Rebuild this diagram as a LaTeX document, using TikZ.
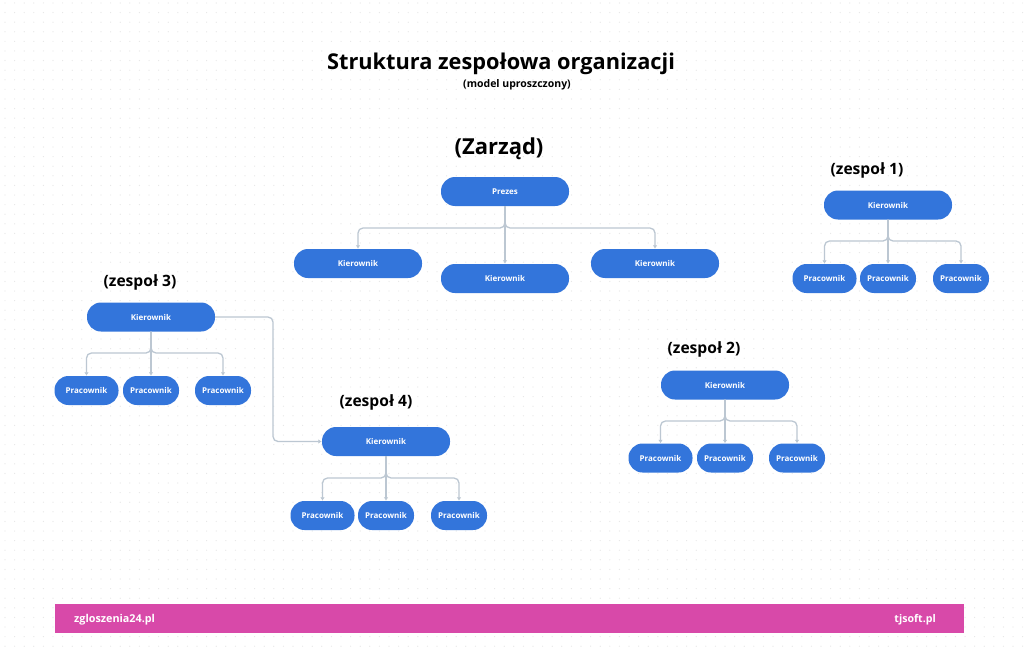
\documentclass[tikz,border=0pt]{standalone}
\usepackage{fontspec}
\setmainfont{Open Sans}
\usetikzlibrary{arrows.meta}
\definecolor{boxblue}{HTML}{3375DB}
\definecolor{linegray}{HTML}{BCC7D2}
\definecolor{barpink}{HTML}{D849A9}
\definecolor{dotgray}{HTML}{E6E6E6}
\tikzset{
  x=1pt,y=-1pt,
  pill/.style={fill=boxblue,text=white,rounded corners=14pt,font=\fontsize{8}{9}\selectfont\bfseries,inner sep=0pt,minimum height=29pt,align=center},
  boss/.style={pill,minimum width=128pt},
  wideworker/.style={pill,minimum width=64pt},
  worker/.style={pill,minimum width=56pt},
  conn/.style={draw=linegray,line width=1.3pt,rounded corners=5pt,-{Latex[length=3.5pt,width=4.5pt]}},
  heading/.style={text=black,font=\fontsize{15.6}{18}\selectfont\bfseries,inner sep=0pt},
  dotrow/.style={draw=dotgray,line width=1.2pt,line cap=round,dash pattern=on 0pt off 9.6pt},
}
\begin{document}
\begin{tikzpicture}
\useasboundingbox (0,0) rectangle (1024,650);
\fill[white] (0,0) rectangle (1024,650);
\foreach \j in {0,...,67}{
  \draw[dotrow] (5,{3+9.6*\j}) -- (1024,{3+9.6*\j});}
\node[text=black,font=\fontsize{21.75}{26}\selectfont\bfseries,inner sep=0pt] (title) at (501,64) {Struktura zespołowa organizacji};
\node[text=black,font=\fontsize{10.5}{12}\selectfont\bfseries,inner sep=0pt] (sub) at (517,85) {(model uproszczony)};
\node[text=black,font=\fontsize{22}{26}\selectfont\bfseries,inner sep=0pt] (zarzad) at (499,149) {(Zarząd)};
\node[heading] (h1) at (867,170) {(zespoł 1)};
\node[heading] (h2) at (704,349) {(zespoł 2)};
\node[heading] (h3) at (140,282) {(zespoł 3)};
\node[heading] (h4) at (376,402) {(zespoł 4)};
% management
\node[boss] (prezes) at (505,191.5) {Prezes};
\node[boss] (k1) at (358,263.5) {Kierownik};
\node[boss] (k2) at (505,278.5) {Kierownik};
\node[boss] (k3) at (655,263.5) {Kierownik};
\coordinate (jz) at (505,228);
\draw[conn] (prezes.south) -- (jz) -| (k1.north);
\draw[conn] (prezes.south) -- (k2.north);
\draw[conn] (prezes.south) -- (jz) -| (k3.north);
% team 1
\node[boss] (a0) at (888,205) {Kierownik};
\node[wideworker] (a1) at (824.5,278.5) {Pracownik};
\node[worker] (a2) at (888,278.5) {Pracownik};
\node[worker] (a3) at (961,278.5) {Pracownik};
\coordinate (ja) at (888,241);
\draw[conn] (a0.south) -- (ja) -| (a1.north);
\draw[conn] (a0.south) -- (a2.north);
\draw[conn] (a0.south) -- (ja) -| (a3.north);
% team 2
\node[boss] (b0) at (725,385) {Kierownik};
\node[wideworker] (b1) at (660.5,458) {Pracownik};
\node[worker] (b2) at (725,458) {Pracownik};
\node[worker] (b3) at (797,458) {Pracownik};
\coordinate (jb) at (725,421);
\draw[conn] (b0.south) -- (jb) -| (b1.north);
\draw[conn] (b0.south) -- (b2.north);
\draw[conn] (b0.south) -- (jb) -| (b3.north);
% team 3
\node[boss] (c0) at (151,317) {Kierownik};
\node[wideworker] (c1) at (86.5,390.5) {Pracownik};
\node[worker] (c2) at (151,390.5) {Pracownik};
\node[worker] (c3) at (223,390.5) {Pracownik};
\coordinate (jc) at (151,353);
\draw[conn] (c0.south) -- (jc) -| (c1.north);
\draw[conn] (c0.south) -- (c2.north);
\draw[conn] (c0.south) -- (jc) -| (c3.north);
% team 4
\node[boss] (d0) at (386,441.5) {Kierownik};
\node[wideworker] (d1) at (322.5,515.5) {Pracownik};
\node[worker] (d2) at (386,515.5) {Pracownik};
\node[worker] (d3) at (459,515.5) {Pracownik};
\coordinate (jd) at (386,478);
\draw[conn] (d0.south) -- (jd) -| (d1.north);
\draw[conn] (d0.south) -- (d2.north);
\draw[conn] (d0.south) -- (jd) -| (d3.north);
% link team 3 to team 4
\coordinate (jl) at (273,380);
\draw[conn] (c0.east) -| (jl) |- (d0.west);
% footer
\node[fill=barpink,minimum width=909pt,minimum height=29pt,inner sep=0pt] (bar) at (509.5,618.5) {};
\node[text=white,font=\fontsize{10.8}{14}\selectfont\bfseries,inner sep=0pt,anchor=west] (fl) at (74,620) {zgloszenia24.pl};
\node[text=white,font=\fontsize{10.6}{14}\selectfont\bfseries,inner sep=0pt,anchor=east] (fr) at (936,620) {tjsoft.pl};
\end{tikzpicture}
\end{document}
